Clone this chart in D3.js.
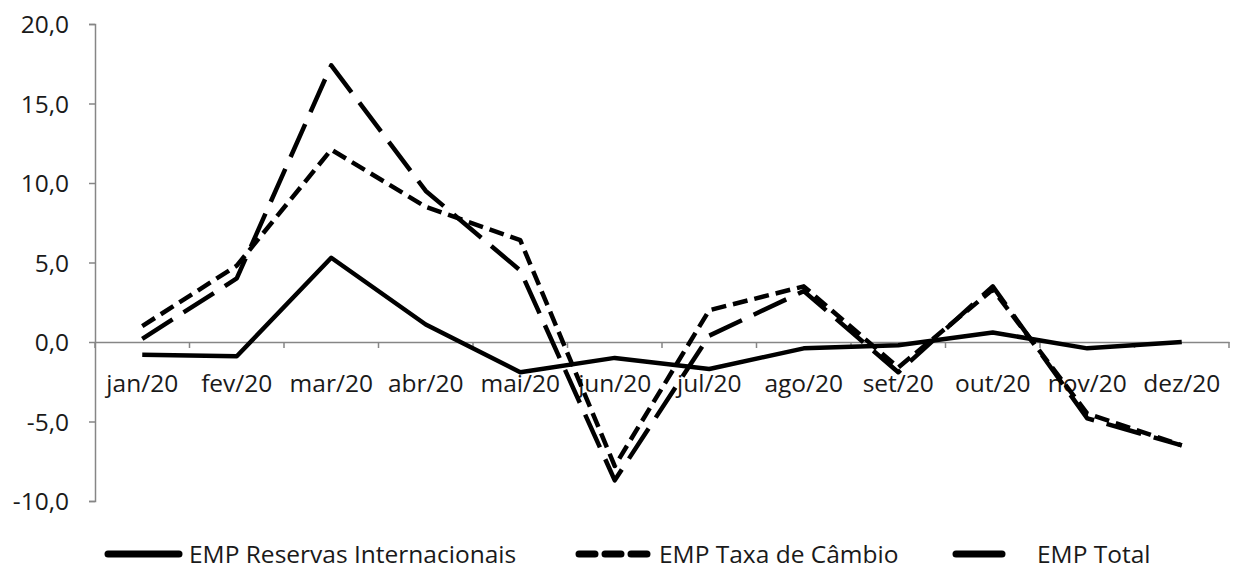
<!DOCTYPE html>
<html><head><meta charset="utf-8">
<script src="https://cdn.jsdelivr.net/npm/d3@7"></script>
<style>body{margin:0;background:#fff;} svg{display:block;}</style>
</head><body>
<svg id="c" width="1233" height="572"></svg>
<script>
const categories = ["jan/20","fev/20","mar/20","abr/20","mai/20","jun/20","jul/20","ago/20","set/20","out/20","nov/20","dez/20"];
const reservas = [-0.8,-0.9,5.3,1.1,-1.9,-1.0,-1.7,-0.4,-0.2,0.6,-0.4,0.0];
const taxa = [1.0,4.8,12.1,8.5,6.4,-7.8,2.0,3.5,-1.6,3.3,-4.5,-6.5];
const total = [0.2,4.0,17.4,9.5,4.5,-8.7,0.4,3.2,-1.9,3.5,-4.8,-6.5];
const yTicks = [-10,-5,0,5,10,15,20];
const seriesNames = ["EMP Reservas Internacionais","EMP Taxa de Câmbio","EMP Total"];

const svg = d3.select("#c");
const font = "'Open Sans', Lato, sans-serif";
const fs = 24.5;
const x = d3.scaleBand().domain(categories).range([95,1229]).paddingInner(0).paddingOuter(0);
const y = d3.scaleLinear().domain([-10,20]).range([501,24]);
const axisColor = "#868686";
const textColor = "#1a1a1a";

// y axis
const ya = svg.append("g").attr("transform","translate(95,0)")
  .call(d3.axisLeft(y).tickValues(yTicks).tickSize(6).tickFormat(d=>d3.format(".1f")(d).replace(".",",").replace("−","-")));
ya.select(".domain").attr("stroke",axisColor).attr("stroke-width",1.5);
ya.selectAll(".tick line").attr("stroke",axisColor).attr("stroke-width",1.5);
ya.selectAll(".tick text").attr("font-family",font).attr("font-size",fs).attr("fill",textColor)
  .attr("x",-26).attr("dy","0.36em");

// x axis at zero
const xa = svg.append("g").attr("transform",`translate(0,${y(0)})`)
  .call(d3.axisBottom(x).tickSize(0).tickFormat(d=>d));
xa.select(".domain").attr("stroke",axisColor).attr("stroke-width",1.5);
xa.selectAll(".tick text").attr("font-family",font).attr("font-size",fs).attr("fill",textColor)
  .attr("y",50).attr("dy",null);
// boundary ticks
const bounds = categories.map(c=>x(c)).concat([x(categories[categories.length-1])+x.bandwidth()]);
svg.append("g").selectAll("line").data(bounds).join("line")
  .attr("x1",d=>d).attr("x2",d=>d).attr("y1",y(0)).attr("y2",y(0)+6)
  .attr("stroke",axisColor).attr("stroke-width",1.5);

const line = d3.line().x((d,i)=>x(categories[i])+x.bandwidth()/2).y(d=>y(d));
const styles = [
  {data:reservas, dash:null},
  {data:taxa, dash:"15,7"},
  {data:total, dash:"36,13"}
];
styles.forEach(s=>{
  svg.append("path").datum(s.data).attr("d",line).attr("fill","none")
    .attr("stroke","#000").attr("stroke-width",4.5).attr("stroke-linejoin","round")
    .attr("stroke-dasharray",s.dash);
});

// legend
const leg = [
  {x1:108,x2:179,tx:189,dash:null},
  {x1:579,x2:647,tx:659,dash:"16,10"},
  {x1:956,x2:1002,tx:1037,dash:null}
];
leg.forEach((l,i)=>{
  svg.append("line").attr("x1",l.x1).attr("x2",l.x2).attr("y1",554).attr("y2",554)
    .attr("stroke","#000").attr("stroke-width",7).attr("stroke-linecap","round").attr("stroke-dasharray",l.dash);
  svg.append("text").attr("x",l.tx).attr("y",563).attr("font-family",font).attr("font-size",fs)
    .attr("fill",textColor).text(seriesNames[i]);
});
</script>
</body></html>
